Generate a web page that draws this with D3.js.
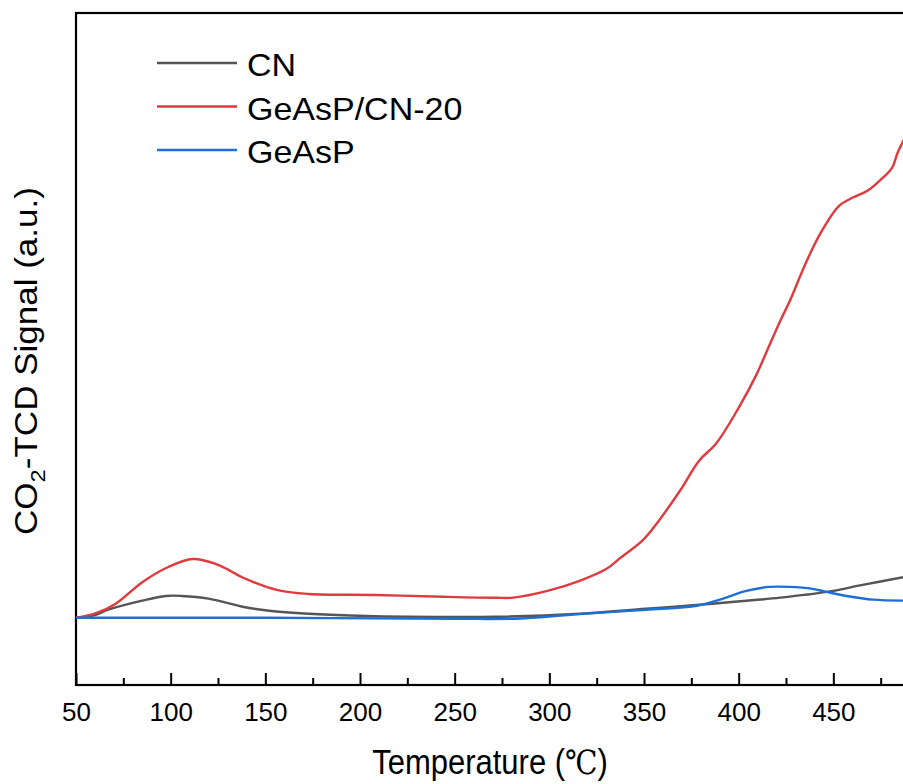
<!DOCTYPE html>
<html>
<head>
<meta charset="utf-8">
<script src="https://cdn.jsdelivr.net/npm/d3@7"></script>
<style>
    body { margin: 0; background: #fff; }
    #chart { width: 903px; height: 784px; overflow: hidden; }
    text { font-family: Arial, "Liberation Sans", sans-serif; fill: #000; }
</style>
</head>
<body>
<div id="chart"></div>
<script>

// values (temperature in degC, signal in a.u.)
let cnTemp   = [50, 60, 67, 85, 97.5, 106, 120, 138, 152, 173, 199, 226, 272, 316, 351, 386, 422, 446.5, 465.5, 488];
let cnSignal = [0, 0.008, 0.024, 0.051, 0.065, 0.065, 0.057, 0.033, 0.021, 0.012, 0.006, 0.003, 0.003, 0.012, 0.027, 0.042, 0.060, 0.077, 0.098, 0.122];

let gcnTemp   = [50, 60.6, 71, 85, 99, 111.6, 124, 131, 138, 156, 173, 208, 244, 272, 281, 299, 316, 330, 337, 349, 355, 369, 379, 388, 400, 409.6, 415, 422, 427, 436, 444, 453, 460, 468, 474.5, 481, 484, 488];
let gcnSignal = [0, 0.014, 0.042, 0.106, 0.152, 0.175, 0.160, 0.141, 0.120, 0.083, 0.071, 0.068, 0.0625, 0.0595, 0.060, 0.080, 0.110, 0.145, 0.176, 0.229, 0.268, 0.378, 0.467, 0.518, 0.625, 0.726, 0.795, 0.884, 0.943, 1.063, 1.152, 1.226, 1.250, 1.271, 1.301, 1.339, 1.385, 1.430];

let gapTemp   = [50, 150, 250, 285, 316, 351, 378, 390, 404, 416, 427, 439, 446.5, 457, 471, 488];
let gapSignal = [0, 0, -0.003, -0.002, 0.011, 0.024, 0.036, 0.054, 0.080, 0.092, 0.092, 0.086, 0.077, 0.065, 0.054, 0.051];

let seriesNames  = ["CN", "GeAsP/CN-20", "GeAsP"];
let seriesColors = ["#555555", "#e1393d", "#1b6fd9"];

let xMajorTicks = [50, 100, 150, 200, 250, 300, 350, 400, 450];
let xMinorTicks = [75, 125, 175, 225, 275, 325, 375, 425, 475];


class LineVis {

    constructor(parentElement) {
        this.parentElement = parentElement;
        this.series = [
            {name: seriesNames[0], color: seriesColors[0], temp: cnTemp, signal: cnSignal},
            {name: seriesNames[1], color: seriesColors[1], temp: gcnTemp, signal: gcnSignal},
            {name: seriesNames[2], color: seriesColors[2], temp: gapTemp, signal: gapSignal}
        ];

        this.initVis();
    }

    initVis() {
        let vis = this;

        vis.margin = {top: 13, left: 76, bottom: 99};
        vis.width = 852;   // right edge falls past the window, as in the figure
        vis.height = 784 - vis.margin.top - vis.margin.bottom;

        vis.svg = d3.select("#" + vis.parentElement).append("svg")
            .attr("width", 903)
            .attr("height", 784)
            .append("g")
            .attr("transform", `translate(${vis.margin.left}, ${vis.margin.top})`);

        // scales
        vis.x = d3.scaleLinear()
            .domain([50, 500])
            .range([0, vis.width]);

        vis.y = d3.scaleLinear()
            .domain([-0.2, 1.8])
            .range([vis.height, 0]);

        // frame
        vis.svg.append("rect")
            .attr("width", vis.width)
            .attr("height", vis.height)
            .attr("fill", "none")
            .attr("stroke", "#000")
            .attr("stroke-width", 2.2);

        // x axis, ticks point inwards
        vis.xAxis = d3.axisBottom(vis.x)
            .tickValues(xMajorTicks)
            .tickSize(-12)
            .tickPadding(18)
            .tickFormat(d3.format("d"));

        vis.xAxisMinor = d3.axisBottom(vis.x)
            .tickValues(xMinorTicks)
            .tickSize(-7)
            .tickFormat("");

        vis.svg.append("g")
            .attr("class", "x-axis-minor")
            .attr("transform", "translate(0," + vis.height + ")")
            .call(vis.xAxisMinor);

        vis.svg.append("g")
            .attr("class", "x-axis")
            .attr("transform", "translate(0," + vis.height + ")")
            .call(vis.xAxis);

        vis.svg.selectAll(".x-axis .domain, .x-axis-minor .domain").remove();
        vis.svg.selectAll(".tick line").attr("stroke", "#000").attr("stroke-width", 2);
        vis.svg.selectAll(".x-axis text")
            .style("font-size", "26px")
            .attr("fill", "#000");

        // axis titles
        let xTitle = vis.svg.append("text")
            .attr("text-anchor", "middle")
            .attr("transform", `translate(${490 - vis.margin.left}, ${774 - vis.margin.top}) scale(1, 1.15)`)
            .style("font-size", "31px");
        xTitle.append("tspan").text("Temperature (");
        xTitle.append("tspan").style("font-family", "'DejaVu Serif', 'Liberation Serif', serif").style("font-size", "29px").text("\u2103");
        xTitle.append("tspan").text(")");

        let yTitle = vis.svg.append("text")
            .attr("text-anchor", "middle")
            .attr("transform", `translate(${37 - vis.margin.left}, ${361 - vis.margin.top}) rotate(-90) scale(1.13, 1)`)
            .style("font-size", "31px");
        yTitle.append("tspan").text("CO");
        yTitle.append("tspan").attr("dy", 8).style("font-size", "21px").text("2");
        yTitle.append("tspan").attr("dy", -8).text("-TCD Signal (a.u.)");

        // legend
        let legend = vis.svg.append("g")
            .attr("class", "legend")
            .selectAll("g")
            .data(vis.series)
            .enter().append("g")
            .attr("transform", (d, i) => `translate(${157 - vis.margin.left}, ${63 + i * 43.5 - vis.margin.top})`);

        legend.append("line")
            .attr("x1", 0).attr("x2", 80)
            .attr("stroke", d => d.color)
            .attr("stroke-width", 2.4);

        legend.append("text")
            .attr("transform", "translate(90, 13) scale(1, 0.92)")
            .style("font-size", "34px")
            .text(d => d.name);

        vis.line = d3.line()
            .x(d => vis.x(d[0]))
            .y(d => vis.y(d[1]))
            .curve(d3.curveCatmullRom.alpha(0.5));

        vis.updateVis();
    }

    updateVis() {
        let vis = this;

        vis.svg.selectAll(".series")
            .data(vis.series)
            .enter().append("path")
            .attr("class", "series")
            .attr("fill", "none")
            .attr("stroke", d => d.color)
            .attr("stroke-width", 2.4)
            .attr("stroke-linejoin", "round")
            .attr("d", d => vis.line(d.temp.map((t, i) => [t, d.signal[i]])));
    }
}

new LineVis("chart");

</script>
</body>
</html>
